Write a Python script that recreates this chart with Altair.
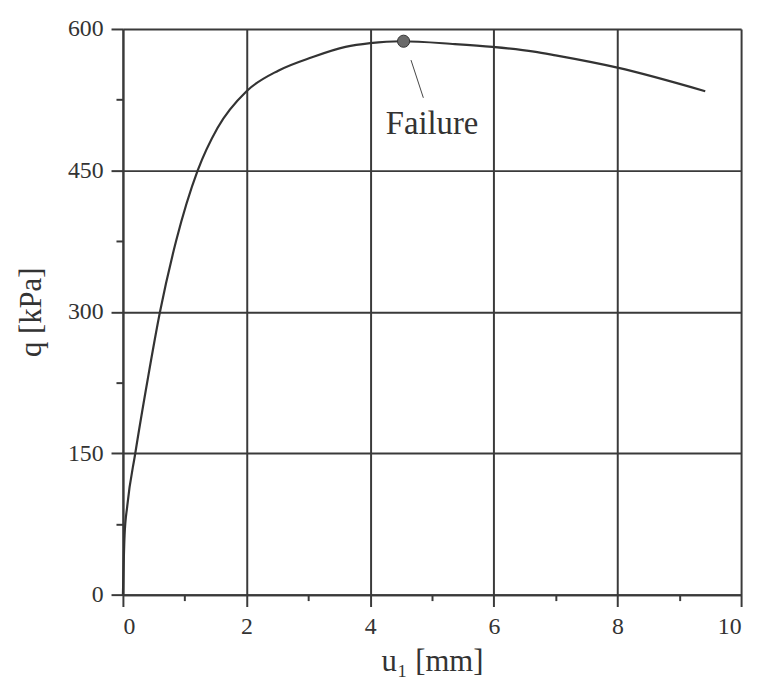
import altair as alt
import pandas as pd

# displacement u1 [mm] and bearing pressure q [kPa]
u_vals = [0, 0.027, 0.07, 0.2, 0.4, 0.6, 0.86, 1.21, 1.53, 2.0, 2.52, 3.06, 3.6, 4.0, 4.5, 5.37, 5.98, 6.65, 7.0, 8.0, 9.42]
q_vals = [0, 63, 94, 150, 228, 300, 375, 450, 495, 534, 556, 570, 581, 585, 587, 584, 581, 576, 572, 559, 534]

failure_u = [4.54]
failure_q = [587]
failure_label = ["Failure"]
leader_u = [4.66]
leader_q = [567]
leader_u2 = [4.86]
leader_q2 = [527]
label_u = [5.0]
label_q = [499]

x_ticks = list(range(0, 11))
y_ticks = list(range(0, 601, 75))

FONT = "Liberation Serif, Times New Roman, serif"
INK = "#3a3a3a"

curve_df = pd.DataFrame({"u": u_vals, "q": q_vals})
fail_df = pd.DataFrame({"u": failure_u, "q": failure_q})
leader_df = pd.DataFrame({"u": leader_u, "q": leader_q, "u2": leader_u2, "q2": leader_q2})
label_df = pd.DataFrame({"u": label_u, "q": label_q, "t": failure_label})

x_scale = alt.Scale(domain=[0, 10], nice=False, zero=False)
y_scale = alt.Scale(domain=[0, 600], nice=False, zero=False)

x_axis = alt.Axis(
    values=x_ticks,
    format="d",
    title="u₁ [mm]",
    labelExpr="datum.value % 2 === 0 ? datum.label : ''",
    tickSize={"condition": {"test": "datum.value % 2 !== 0", "value": 6}, "value": 12},
    gridOpacity={"condition": {"test": "datum.value % 2 !== 0", "value": 0}, "value": 1},
    grid=True,
    labelPadding=8,
    titlePadding=9,
)
y_axis = alt.Axis(
    values=y_ticks,
    format="d",
    title="q [kPa]",
    labelExpr="datum.value % 150 === 0 ? datum.label : ''",
    tickSize={"condition": {"test": "datum.value % 150 !== 0", "value": 7}, "value": 12},
    gridOpacity={"condition": {"test": "datum.value % 150 !== 0", "value": 0}, "value": 1},
    grid=True,
    labelPadding=8,
    titlePadding=20,
)

curve = alt.Chart(curve_df).mark_line(
    interpolate="monotone", color="#333333", strokeWidth=2.2
).encode(
    x=alt.X("u:Q", scale=x_scale, axis=x_axis),
    y=alt.Y("q:Q", scale=y_scale, axis=y_axis),
)

leader = alt.Chart(leader_df).mark_rule(color="#444444", strokeWidth=1).encode(
    x="u:Q", y="q:Q", x2="u2:Q", y2="q2:Q"
)

dot = alt.Chart(fail_df).mark_point(
    filled=True, size=150, color="#6a6a6a", stroke="#333333", strokeWidth=1, opacity=1
).encode(x="u:Q", y="q:Q")

label = alt.Chart(label_df).mark_text(
    font=FONT, fontSize=33, color="#333333", align="center", baseline="middle"
).encode(x="u:Q", y="q:Q", text="t:N")

chart = alt.layer(curve, leader, dot, label).properties(
    width=624,
    height=571,
    autosize=alt.AutoSizeParams(type="none"),
    padding={"left": 116, "top": 18, "right": 10, "bottom": 84},
    background="white",
).configure_view(stroke=None).configure_axis(
    labelFont=FONT,
    labelFontSize=24,
    labelColor="#333333",
    titleFont=FONT,
    titleFontSize=31,
    titleFontWeight="normal",
    titleColor="#333333",
    domainColor=INK,
    domainWidth=2,
    tickColor=INK,
    tickWidth=2,
    gridColor=INK,
    gridWidth=2,
).configure_text(font=FONT)

chart.save("out.html", embed_options={"renderer": "svg", "actions": False})
